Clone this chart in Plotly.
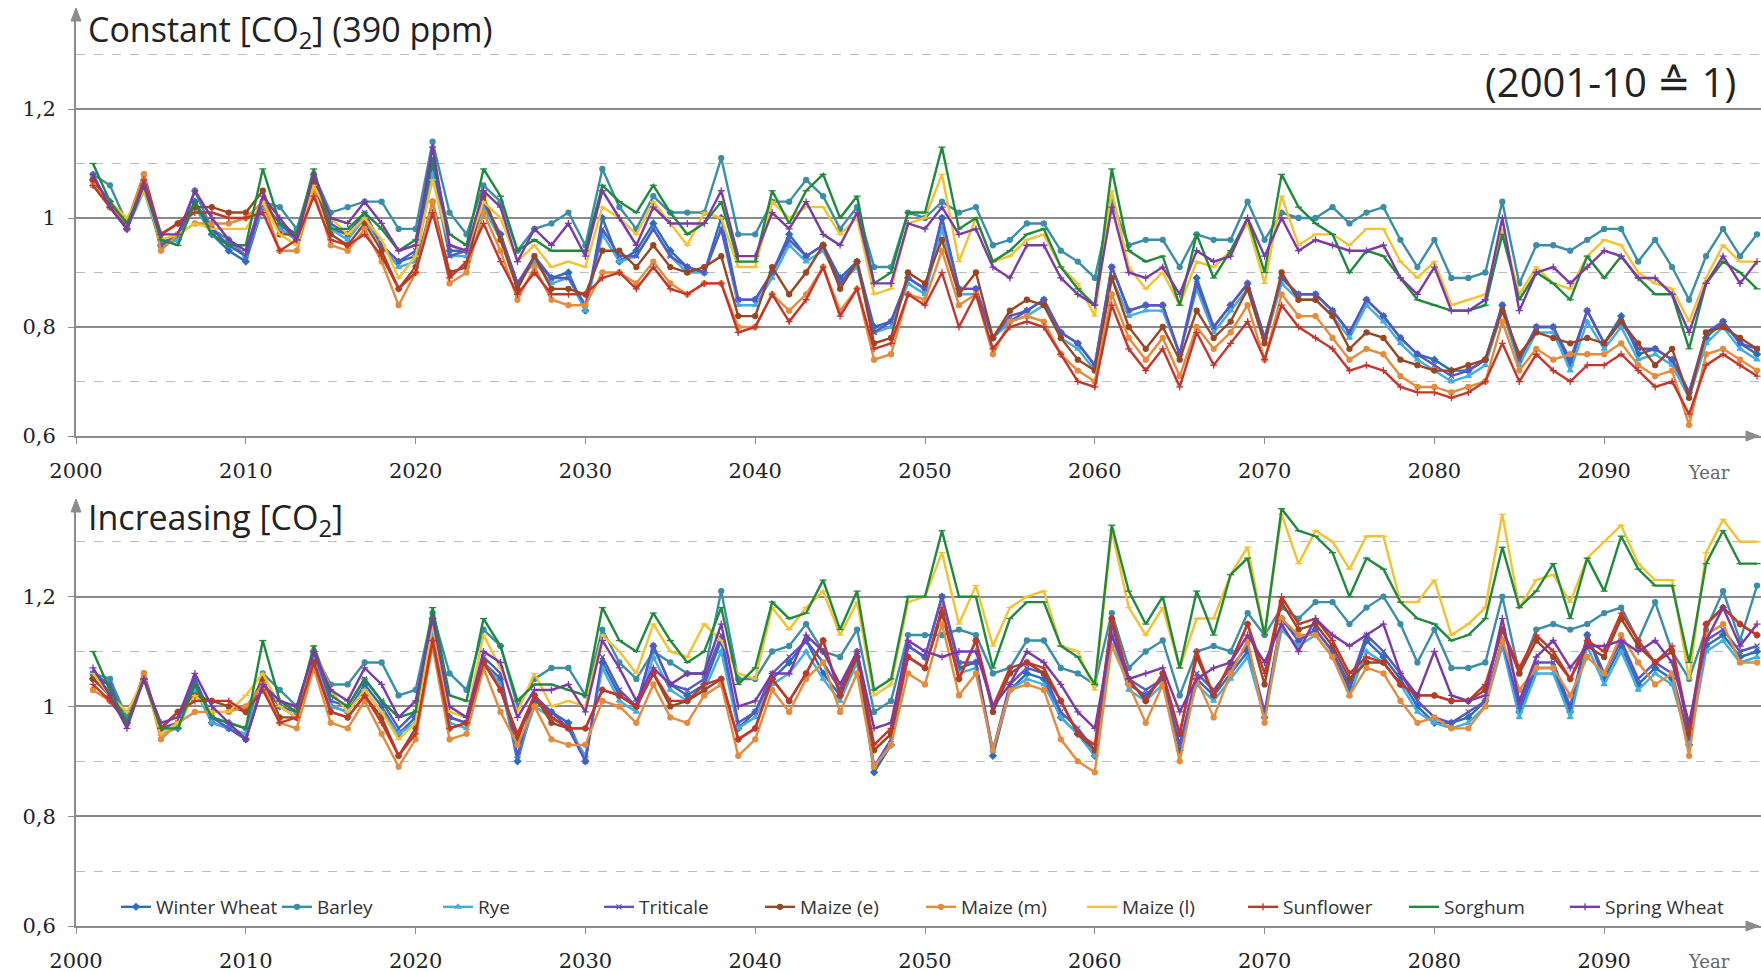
import plotly.graph_objects as go

years = list(range(2001, 2100))

series_names = ["Winter Wheat", "Barley", "Rye", "Triticale", "Maize (e)", "Maize (m)",
                "Maize (l)", "Sunflower", "Sorghum", "Spring Wheat"]

# ---------------- Constant [CO2] (390 ppm) ----------------
const_winter_wheat = [
    1.07, 1.03, 0.98, 1.06, 0.95, 0.96, 1.03, 0.97, 0.94, 0.92,
    1.02, 0.98, 0.96, 1.07, 0.98, 0.97, 1.00, 0.95, 0.92, 0.93,
    1.10, 0.94, 0.94, 1.02, 0.97, 0.88, 0.92, 0.89, 0.90, 0.83,
    1.00, 0.92, 0.94, 0.99, 0.94, 0.91, 0.90, 1.00, 0.85, 0.85,
    0.90, 0.97, 0.93, 0.95, 0.89, 0.92, 0.80, 0.81, 0.89, 0.87,
    1.00, 0.87, 0.87, 0.78, 0.81, 0.83, 0.85, 0.79, 0.77, 0.73,
    0.91, 0.83, 0.84, 0.84, 0.75, 0.89, 0.80, 0.84, 0.88, 0.78,
    0.89, 0.86, 0.86, 0.83, 0.79, 0.85, 0.82, 0.78, 0.75, 0.74,
    0.72, 0.72, 0.74, 0.84, 0.74, 0.80, 0.80, 0.73, 0.83, 0.77,
    0.82, 0.75, 0.76, 0.74, 0.68, 0.78, 0.81, 0.77, 0.75]
const_barley = [
    1.08, 1.06, 0.99, 1.06, 0.96, 0.96, 1.05, 0.98, 0.96, 0.93,
    1.03, 1.02, 0.98, 1.08, 1.01, 1.02, 1.03, 1.03, 0.98, 0.98,
    1.14, 1.01, 0.97, 1.06, 1.03, 0.94, 0.98, 0.99, 1.01, 0.95,
    1.09, 1.02, 0.98, 1.04, 1.01, 1.01, 1.01, 1.11, 0.97, 0.97,
    1.03, 1.03, 1.07, 1.04, 0.98, 1.02, 0.91, 0.91, 1.01, 1.00,
    1.03, 1.01, 1.02, 0.95, 0.96, 0.99, 0.99, 0.94, 0.92, 0.89,
    1.03, 0.95, 0.96, 0.96, 0.91, 0.97, 0.96, 0.96, 1.03, 0.96,
    1.01, 1.00, 1.00, 1.02, 0.99, 1.01, 1.02, 0.96, 0.91, 0.96,
    0.89, 0.89, 0.90, 1.03, 0.88, 0.95, 0.95, 0.94, 0.96, 0.98,
    0.98, 0.92, 0.96, 0.91, 0.85, 0.93, 0.98, 0.93, 0.97]
const_rye = [
    1.06, 1.02, 0.98, 1.05, 0.95, 0.96, 1.02, 0.97, 0.95, 0.93,
    1.02, 0.98, 0.96, 1.06, 0.98, 0.96, 1.00, 0.95, 0.91, 0.92,
    1.08, 0.93, 0.93, 1.02, 0.96, 0.88, 0.92, 0.88, 0.89, 0.83,
    0.97, 0.92, 0.93, 0.98, 0.93, 0.90, 0.90, 0.98, 0.84, 0.84,
    0.89, 0.95, 0.92, 0.94, 0.88, 0.91, 0.79, 0.80, 0.88, 0.86,
    0.98, 0.86, 0.86, 0.78, 0.81, 0.82, 0.84, 0.78, 0.76, 0.72,
    0.89, 0.82, 0.83, 0.83, 0.75, 0.87, 0.79, 0.83, 0.87, 0.77,
    0.88, 0.85, 0.85, 0.82, 0.78, 0.84, 0.81, 0.77, 0.74, 0.72,
    0.70, 0.71, 0.73, 0.83, 0.73, 0.79, 0.79, 0.72, 0.81, 0.76,
    0.80, 0.74, 0.75, 0.73, 0.67, 0.77, 0.80, 0.76, 0.74]
const_triticale = [
    1.07, 1.02, 0.98, 1.06, 0.95, 0.97, 1.03, 0.98, 0.95, 0.93,
    1.03, 0.99, 0.96, 1.07, 0.99, 0.97, 1.01, 0.95, 0.92, 0.94,
    1.11, 0.93, 0.94, 1.03, 0.97, 0.88, 0.93, 0.89, 0.89, 0.84,
    0.98, 0.93, 0.93, 0.98, 0.93, 0.91, 0.90, 0.98, 0.85, 0.85,
    0.90, 0.96, 0.93, 0.95, 0.88, 0.92, 0.79, 0.81, 0.89, 0.87,
    1.00, 0.87, 0.87, 0.78, 0.82, 0.83, 0.85, 0.79, 0.77, 0.73,
    0.91, 0.83, 0.84, 0.84, 0.75, 0.88, 0.80, 0.84, 0.88, 0.78,
    0.89, 0.86, 0.86, 0.83, 0.79, 0.85, 0.82, 0.78, 0.75, 0.73,
    0.71, 0.72, 0.74, 0.84, 0.74, 0.80, 0.80, 0.74, 0.83, 0.77,
    0.81, 0.76, 0.76, 0.74, 0.68, 0.79, 0.81, 0.77, 0.76]
const_maize_e = [
    1.07, 1.02, 0.99, 1.08, 0.97, 0.99, 1.02, 1.02, 1.01, 1.01,
    1.05, 0.97, 0.97, 1.07, 0.97, 0.95, 0.99, 0.94, 0.87, 0.91,
    1.03, 0.90, 0.91, 1.04, 0.96, 0.87, 0.93, 0.87, 0.87, 0.86,
    0.94, 0.94, 0.91, 0.95, 0.91, 0.90, 0.91, 0.93, 0.82, 0.82,
    0.91, 0.86, 0.90, 0.95, 0.87, 0.92, 0.77, 0.78, 0.90, 0.88,
    0.96, 0.86, 0.90, 0.78, 0.83, 0.85, 0.84, 0.78, 0.74, 0.72,
    0.89, 0.80, 0.76, 0.80, 0.74, 0.83, 0.78, 0.81, 0.87, 0.77,
    0.90, 0.85, 0.85, 0.82, 0.76, 0.79, 0.78, 0.74, 0.73, 0.72,
    0.72, 0.73, 0.74, 0.83, 0.75, 0.79, 0.78, 0.77, 0.78, 0.77,
    0.81, 0.77, 0.73, 0.76, 0.67, 0.79, 0.80, 0.78, 0.76]
const_maize_m = [
    1.06, 1.02, 0.99, 1.08, 0.94, 0.97, 0.99, 0.99, 0.99, 1.00,
    1.03, 0.94, 0.94, 1.05, 0.95, 0.94, 0.98, 0.92, 0.84, 0.90,
    1.03, 0.88, 0.90, 1.01, 0.94, 0.85, 0.91, 0.85, 0.84, 0.84,
    0.90, 0.90, 0.88, 0.92, 0.88, 0.86, 0.88, 0.88, 0.80, 0.80,
    0.86, 0.83, 0.86, 0.91, 0.83, 0.87, 0.74, 0.75, 0.86, 0.85,
    0.94, 0.84, 0.86, 0.75, 0.81, 0.82, 0.81, 0.75, 0.72, 0.70,
    0.86, 0.78, 0.74, 0.78, 0.71, 0.80, 0.76, 0.79, 0.84, 0.74,
    0.86, 0.82, 0.82, 0.78, 0.74, 0.76, 0.75, 0.71, 0.69, 0.69,
    0.68, 0.69, 0.70, 0.81, 0.72, 0.76, 0.74, 0.75, 0.75, 0.75,
    0.77, 0.73, 0.71, 0.72, 0.62, 0.75, 0.76, 0.74, 0.72]
const_maize_l = [
    1.06, 1.03, 1.00, 1.05, 0.96, 0.97, 0.99, 0.98, 0.98, 0.98,
    1.03, 0.97, 0.95, 1.06, 1.00, 0.97, 1.00, 0.96, 0.89, 0.93,
    1.07, 0.95, 0.94, 1.03, 1.00, 0.92, 0.95, 0.91, 0.92, 0.91,
    1.02, 1.00, 0.97, 1.03, 0.99, 0.95, 1.01, 1.00, 0.91, 0.91,
    1.03, 1.00, 1.02, 1.02, 0.97, 1.00, 0.86, 0.87, 0.99, 1.00,
    1.08, 0.92, 1.00, 0.92, 0.93, 0.96, 0.97, 0.91, 0.88, 0.82,
    1.05, 0.91, 0.87, 0.90, 0.84, 0.92, 0.91, 0.94, 0.99, 0.88,
    1.04, 0.95, 0.97, 0.97, 0.95, 0.98, 0.98, 0.92, 0.89, 0.92,
    0.84, 0.85, 0.86, 0.98, 0.86, 0.91, 0.88, 0.87, 0.93, 0.96,
    0.95, 0.90, 0.88, 0.87, 0.81, 0.89, 0.95, 0.92, 0.92]
const_sunflower = [
    1.06, 1.02, 0.98, 1.07, 0.97, 0.99, 1.01, 1.01, 1.00, 1.00,
    1.01, 0.94, 0.96, 1.04, 0.96, 0.95, 0.97, 0.93, 0.87, 0.90,
    1.01, 0.89, 0.92, 0.99, 0.92, 0.86, 0.90, 0.86, 0.86, 0.86,
    0.89, 0.90, 0.87, 0.91, 0.87, 0.86, 0.88, 0.88, 0.79, 0.80,
    0.86, 0.81, 0.85, 0.91, 0.82, 0.87, 0.76, 0.77, 0.86, 0.84,
    0.90, 0.80, 0.86, 0.76, 0.80, 0.81, 0.80, 0.75, 0.70, 0.69,
    0.84, 0.76, 0.72, 0.76, 0.69, 0.79, 0.73, 0.77, 0.81, 0.74,
    0.84, 0.80, 0.78, 0.76, 0.72, 0.73, 0.72, 0.69, 0.68, 0.68,
    0.67, 0.68, 0.70, 0.77, 0.70, 0.75, 0.72, 0.70, 0.73, 0.73,
    0.75, 0.72, 0.69, 0.70, 0.64, 0.73, 0.75, 0.73, 0.71]
const_sorghum = [
    1.10, 1.03, 0.99, 1.06, 0.96, 0.95, 1.03, 0.97, 0.95, 0.95,
    1.09, 0.99, 0.97, 1.09, 0.98, 0.98, 1.01, 0.98, 0.94, 0.96,
    1.11, 0.97, 0.95, 1.09, 1.04, 0.94, 0.96, 0.94, 0.94, 0.94,
    1.06, 1.03, 1.01, 1.06, 1.01, 0.97, 0.99, 1.03, 0.92, 0.92,
    1.05, 0.99, 1.05, 1.08, 1.00, 1.04, 0.88, 0.90, 1.01, 1.01,
    1.13, 0.98, 1.00, 0.92, 0.94, 0.97, 0.98, 0.91, 0.87, 0.84,
    1.09, 0.94, 0.92, 0.93, 0.84, 0.97, 0.89, 0.94, 1.00, 0.90,
    1.08, 1.02, 0.99, 0.97, 0.90, 0.94, 0.93, 0.89, 0.85, 0.84,
    0.83, 0.83, 0.84, 0.97, 0.85, 0.90, 0.88, 0.85, 0.93, 0.89,
    0.93, 0.89, 0.86, 0.86, 0.76, 0.88, 0.92, 0.90, 0.87]
const_spring_wheat = [
    1.08, 1.02, 0.98, 1.06, 0.97, 0.97, 1.05, 1.00, 0.96, 0.94,
    1.04, 1.00, 0.96, 1.08, 1.00, 0.99, 1.03, 0.99, 0.94, 0.95,
    1.13, 0.95, 0.94, 1.05, 1.02, 0.92, 0.98, 0.95, 0.99, 0.93,
    1.05, 1.00, 0.95, 1.02, 0.99, 0.99, 0.99, 1.05, 0.93, 0.93,
    1.01, 0.98, 1.03, 0.97, 0.95, 1.01, 0.88, 0.88, 0.99, 0.98,
    1.02, 0.97, 0.98, 0.91, 0.89, 0.95, 0.95, 0.89, 0.86, 0.84,
    1.02, 0.90, 0.89, 0.91, 0.86, 0.94, 0.92, 0.93, 1.00, 0.93,
    1.00, 0.94, 0.96, 0.95, 0.94, 0.94, 0.95, 0.89, 0.86, 0.91,
    0.83, 0.83, 0.85, 1.00, 0.83, 0.90, 0.91, 0.88, 0.91, 0.94,
    0.93, 0.89, 0.89, 0.86, 0.79, 0.88, 0.93, 0.88, 0.92]

# ---------------- Increasing [CO2] ----------------
incr_winter_wheat = [
    1.05, 1.04, 0.97, 1.05, 0.96, 0.96, 1.04, 0.97, 0.96, 0.94,
    1.04, 1.00, 0.98, 1.10, 1.00, 0.99, 1.04, 1.00, 0.95, 0.98,
    1.16, 0.98, 0.97, 1.08, 1.05, 0.90, 1.01, 0.99, 0.97, 0.90,
    1.08, 1.02, 1.00, 1.11, 1.04, 1.02, 1.04, 1.12, 0.96, 0.99,
    1.05, 1.08, 1.12, 1.06, 1.02, 1.09, 0.88, 0.93, 1.11, 1.09,
    1.20, 1.07, 1.08, 0.91, 1.03, 1.06, 1.05, 0.98, 0.95, 0.91,
    1.15, 1.04, 1.02, 1.05, 0.92, 1.05, 1.02, 1.06, 1.10, 0.98,
    1.16, 1.12, 1.14, 1.10, 1.03, 1.12, 1.09, 1.05, 1.00, 0.97,
    0.97, 0.98, 1.01, 1.12, 0.99, 1.07, 1.07, 0.99, 1.13, 1.05,
    1.11, 1.04, 1.07, 1.05, 0.93, 1.11, 1.13, 1.09, 1.10]
incr_barley = [
    1.06, 1.05, 0.98, 1.05, 0.96, 0.97, 1.05, 0.98, 0.97, 0.96,
    1.06, 1.03, 1.00, 1.10, 1.04, 1.04, 1.08, 1.08, 1.02, 1.03,
    1.17, 1.06, 1.03, 1.14, 1.11, 1.00, 1.05, 1.07, 1.07, 1.02,
    1.14, 1.08, 1.05, 1.10, 1.08, 1.06, 1.06, 1.21, 1.05, 1.05,
    1.10, 1.11, 1.15, 1.10, 1.09, 1.14, 0.99, 1.01, 1.13, 1.13,
    1.13, 1.14, 1.13, 1.06, 1.07, 1.12, 1.12, 1.07, 1.06, 1.04,
    1.17, 1.07, 1.10, 1.12, 1.02, 1.10, 1.11, 1.10, 1.17, 1.13,
    1.18, 1.16, 1.19, 1.19, 1.15, 1.18, 1.20, 1.15, 1.08, 1.14,
    1.07, 1.07, 1.08, 1.20, 1.06, 1.14, 1.15, 1.14, 1.15, 1.17,
    1.18, 1.12, 1.19, 1.10, 1.05, 1.14, 1.21, 1.12, 1.22]
incr_rye = [
    1.05, 1.03, 0.97, 1.05, 0.95, 0.96, 1.03, 0.97, 0.96, 0.95,
    1.04, 1.00, 0.98, 1.09, 1.00, 0.99, 1.03, 0.99, 0.95, 0.97,
    1.14, 0.97, 0.96, 1.08, 1.04, 0.91, 1.00, 0.98, 0.96, 0.91,
    1.07, 1.01, 0.99, 1.09, 1.03, 1.01, 1.03, 1.10, 0.96, 0.98,
    1.04, 1.06, 1.10, 1.05, 1.01, 1.08, 0.89, 0.93, 1.09, 1.07,
    1.17, 1.06, 1.07, 0.92, 1.03, 1.05, 1.04, 0.98, 0.95, 0.91,
    1.13, 1.03, 1.01, 1.04, 0.93, 1.04, 1.01, 1.05, 1.09, 0.98,
    1.14, 1.11, 1.13, 1.09, 1.02, 1.10, 1.08, 1.04, 0.99, 0.97,
    0.96, 0.97, 1.00, 1.11, 0.98, 1.06, 1.06, 0.98, 1.11, 1.04,
    1.10, 1.03, 1.06, 1.04, 0.93, 1.10, 1.12, 1.08, 1.09]
incr_triticale = [
    1.06, 1.04, 0.97, 1.05, 0.96, 0.97, 1.05, 0.98, 0.96, 0.94,
    1.04, 1.00, 0.99, 1.10, 1.01, 1.00, 1.05, 1.01, 0.96, 0.99,
    1.16, 0.98, 0.97, 1.09, 1.06, 0.91, 1.02, 0.99, 0.96, 0.90,
    1.09, 1.03, 1.00, 1.11, 1.04, 1.03, 1.05, 1.13, 0.97, 0.99,
    1.06, 1.09, 1.12, 1.08, 1.03, 1.10, 0.89, 0.94, 1.11, 1.09,
    1.20, 1.08, 1.08, 0.92, 1.04, 1.07, 1.06, 0.99, 0.96, 0.92,
    1.15, 1.05, 1.03, 1.05, 0.93, 1.06, 1.03, 1.07, 1.11, 0.99,
    1.16, 1.12, 1.14, 1.10, 1.04, 1.13, 1.10, 1.06, 1.01, 0.98,
    0.97, 0.99, 1.01, 1.12, 1.00, 1.08, 1.08, 1.00, 1.13, 1.06,
    1.12, 1.05, 1.08, 1.06, 0.94, 1.12, 1.14, 1.10, 1.11]
incr_maize_e = [
    1.05, 1.02, 0.97, 1.06, 0.96, 0.99, 1.02, 1.01, 1.00, 0.99,
    1.05, 0.98, 0.98, 1.08, 0.99, 0.98, 1.02, 0.98, 0.91, 0.96,
    1.12, 0.96, 0.97, 1.08, 1.03, 0.94, 1.02, 0.97, 0.96, 0.96,
    1.03, 1.02, 1.00, 1.06, 1.00, 1.01, 1.03, 1.05, 0.94, 0.96,
    1.05, 1.01, 1.06, 1.12, 1.02, 1.09, 0.92, 0.95, 1.09, 1.07,
    1.17, 1.05, 1.12, 0.99, 1.06, 1.08, 1.06, 1.01, 0.95, 0.92,
    1.16, 1.05, 1.01, 1.06, 0.95, 1.09, 1.02, 1.08, 1.15, 1.04,
    1.19, 1.14, 1.15, 1.11, 1.05, 1.08, 1.08, 1.04, 1.02, 1.02,
    1.01, 1.01, 1.03, 1.14, 1.06, 1.12, 1.09, 1.05, 1.11, 1.09,
    1.16, 1.11, 1.08, 1.10, 0.95, 1.15, 1.18, 1.15, 1.13]
incr_maize_m = [
    1.03, 1.01, 0.97, 1.06, 0.94, 0.97, 0.99, 0.99, 0.99, 1.00,
    1.04, 0.97, 0.96, 1.07, 0.97, 0.96, 1.01, 0.95, 0.89, 0.94,
    1.11, 0.94, 0.95, 1.07, 0.99, 0.93, 1.00, 0.94, 0.93, 0.93,
    1.01, 1.00, 0.97, 1.04, 0.98, 0.97, 1.02, 1.04, 0.91, 0.94,
    1.03, 0.99, 1.05, 1.08, 0.99, 1.06, 0.89, 0.93, 1.06, 1.04,
    1.15, 1.02, 1.06, 0.92, 1.03, 1.04, 1.03, 0.94, 0.90, 0.88,
    1.11, 1.04, 0.97, 1.04, 0.90, 1.05, 0.98, 1.06, 1.12, 0.97,
    1.16, 1.13, 1.13, 1.09, 1.02, 1.07, 1.06, 1.01, 0.97, 0.98,
    0.96, 0.96, 1.00, 1.12, 1.03, 1.07, 1.07, 1.02, 1.09, 1.06,
    1.13, 1.08, 1.04, 1.06, 0.91, 1.13, 1.15, 1.08, 1.08]
incr_maize_l = [
    1.06, 1.02, 0.99, 1.05, 0.95, 0.97, 1.02, 0.99, 0.99, 1.02,
    1.06, 1.00, 0.98, 1.11, 1.03, 0.99, 1.03, 0.99, 0.94, 0.97,
    1.15, 0.99, 0.98, 1.13, 1.07, 0.99, 1.06, 1.00, 1.01, 1.00,
    1.13, 1.10, 1.06, 1.15, 1.10, 1.09, 1.15, 1.12, 1.06, 1.05,
    1.18, 1.14, 1.18, 1.21, 1.13, 1.19, 1.02, 1.04, 1.19, 1.20,
    1.28, 1.15, 1.22, 1.11, 1.18, 1.20, 1.21, 1.11, 1.10, 1.03,
    1.32, 1.18, 1.13, 1.18, 1.07, 1.16, 1.16, 1.24, 1.29, 1.13,
    1.35, 1.26, 1.32, 1.30, 1.25, 1.31, 1.31, 1.19, 1.19, 1.23,
    1.13, 1.15, 1.18, 1.35, 1.18, 1.23, 1.24, 1.19, 1.27, 1.30,
    1.33, 1.26, 1.23, 1.23, 1.05, 1.28, 1.34, 1.30, 1.30]
incr_sunflower = [
    1.04, 1.01, 0.97, 1.05, 0.96, 0.99, 1.01, 1.01, 1.01, 0.99,
    1.03, 0.97, 0.98, 1.08, 0.99, 0.98, 1.02, 0.97, 0.91, 0.95,
    1.12, 0.96, 0.97, 1.08, 1.03, 0.95, 1.02, 0.98, 0.96, 0.96,
    1.03, 1.02, 1.00, 1.06, 1.01, 1.01, 1.04, 1.05, 0.94, 0.96,
    1.05, 1.01, 1.06, 1.12, 1.02, 1.10, 0.93, 0.96, 1.09, 1.07,
    1.18, 1.05, 1.12, 1.00, 1.07, 1.08, 1.07, 1.01, 0.95, 0.93,
    1.16, 1.05, 1.01, 1.06, 0.95, 1.10, 1.02, 1.08, 1.15, 1.06,
    1.20, 1.15, 1.16, 1.12, 1.06, 1.09, 1.08, 1.04, 1.02, 1.02,
    1.01, 1.01, 1.04, 1.14, 1.07, 1.13, 1.10, 1.05, 1.12, 1.10,
    1.17, 1.12, 1.08, 1.11, 0.96, 1.15, 1.18, 1.15, 1.13]
incr_sorghum = [
    1.10, 1.03, 0.97, 1.05, 0.96, 0.96, 1.04, 0.98, 0.97, 0.96,
    1.12, 1.01, 0.99, 1.11, 1.02, 1.00, 1.05, 1.01, 0.98, 0.99,
    1.18, 1.02, 1.01, 1.16, 1.11, 1.01, 1.04, 1.04, 1.03, 1.02,
    1.18, 1.12, 1.10, 1.17, 1.12, 1.08, 1.10, 1.18, 1.04, 1.07,
    1.19, 1.16, 1.17, 1.23, 1.14, 1.21, 1.03, 1.05, 1.20, 1.20,
    1.32, 1.20, 1.20, 1.07, 1.16, 1.19, 1.19, 1.11, 1.09, 1.04,
    1.33, 1.21, 1.15, 1.20, 1.07, 1.21, 1.13, 1.24, 1.27, 1.13,
    1.36, 1.32, 1.31, 1.28, 1.20, 1.27, 1.25, 1.19, 1.16, 1.15,
    1.12, 1.13, 1.16, 1.29, 1.18, 1.21, 1.26, 1.16, 1.27, 1.21,
    1.31, 1.25, 1.22, 1.22, 1.08, 1.26, 1.32, 1.26, 1.26]
incr_spring_wheat = [
    1.07, 1.02, 0.96, 1.05, 0.97, 0.98, 1.06, 1.00, 0.97, 0.94,
    1.04, 1.01, 1.00, 1.10, 1.03, 1.01, 1.07, 1.04, 0.98, 1.01,
    1.16, 1.00, 0.98, 1.10, 1.08, 0.98, 1.03, 1.03, 1.04, 0.99,
    1.12, 1.07, 1.01, 1.07, 1.04, 1.06, 1.06, 1.15, 1.00, 1.01,
    1.06, 1.06, 1.13, 1.10, 1.04, 1.10, 0.96, 0.97, 1.12, 1.10,
    1.09, 1.10, 1.10, 1.00, 1.04, 1.10, 1.08, 1.04, 0.99, 0.96,
    1.13, 1.05, 1.06, 1.07, 0.99, 1.05, 1.07, 1.08, 1.13, 1.08,
    1.15, 1.10, 1.16, 1.13, 1.11, 1.13, 1.15, 1.06, 1.02, 1.10,
    1.02, 1.01, 1.02, 1.16, 1.01, 1.09, 1.12, 1.07, 1.11, 1.11,
    1.12, 1.10, 1.12, 1.08, 0.97, 1.12, 1.18, 1.11, 1.15]

const_values = [const_winter_wheat, const_barley, const_rye, const_triticale, const_maize_e,
                const_maize_m, const_maize_l, const_sunflower, const_sorghum, const_spring_wheat]
incr_values = [incr_winter_wheat, incr_barley, incr_rye, incr_triticale, incr_maize_e,
               incr_maize_m, incr_maize_l, incr_sunflower, incr_sorghum, incr_spring_wheat]

y_tick_vals = [0.6, 0.8, 1.0, 1.2]
y_tick_text = ["0,6", "0,8", "1", "1,2"]
y_minor_vals = [0.7, 0.9, 1.1, 1.3]
x_tick_vals = [2000, 2010, 2020, 2030, 2040, 2050, 2060, 2070, 2080, 2090]

colors = ["#2a6ebb", "#3a8ea8", "#40aee2", "#5a55c6", "#9a4622",
          "#e58b3c", "#f3c22e", "#c7352a", "#1f8a3c", "#7b3aa6"]
symbols = ["diamond", "circle", "triangle-up", "x-thin", "circle", "circle",
           "line-ew", "cross-thin", "line-ew", "cross-thin"]

W, H = 1761, 972
fig = go.Figure()

for i, name in enumerate(series_names):
    for vals, yax, show in ((const_values[i], "y", False), (incr_values[i], "y2", True)):
        fig.add_trace(go.Scatter(
            x=years, y=vals, name=name, yaxis=yax, xaxis="x" if yax == "y" else "x2",
            mode="lines+markers", legendgroup=name, showlegend=show,
            line=dict(color=colors[i], width=2.4),
            marker=dict(symbol=symbols[i], size=5, color=colors[i],
                        line=dict(color=colors[i], width=1.3)),
        ))

xl = 76 / W
top_dom = [1 - 436 / H, 1 - 11 / H]
bot_dom = [1 - 926 / H, 1 - 502 / H]
x_range = [2000, 2000 + (W - 76) / 16.98]

tick_font = dict(family="DejaVu Serif", size=21, color="#222222")
common_x = dict(range=x_range, domain=[xl, 1], tickmode="array", tickvals=x_tick_vals,
                showline=True, linecolor="#8c8c8c", linewidth=2, ticks="outside",
                ticklen=6, tickcolor="#8c8c8c", showgrid=False, zeroline=False,
                tickfont=tick_font, automargin=False, ticklabelstandoff=9)
common_y = dict(tickmode="array", tickvals=y_tick_vals, ticktext=y_tick_text,
                showline=True, linecolor="#8c8c8c", linewidth=2, ticks="outside",
                ticklen=6, tickcolor="#8c8c8c", showgrid=True, gridcolor="#8a8a8a",
                gridwidth=1.5, zeroline=False, tickfont=tick_font, automargin=False,
                ticklabelstandoff=8,
                minor=dict(tickvals=y_minor_vals, showgrid=True, gridcolor="#bdbdbd",
                           griddash="dash", gridwidth=1, ticks=""))

fig.update_layout(
    width=W, height=H, margin=dict(l=0, r=0, t=0, b=0, autoexpand=False),
    paper_bgcolor="white", plot_bgcolor="white",
    xaxis=dict(anchor="y", **common_x),
    xaxis2=dict(anchor="y2", **common_x),
    yaxis=dict(domain=top_dom, range=[0.6, 0.6 + 425 / 545], anchor="x", **common_y),
    yaxis2=dict(domain=bot_dom, range=[0.6, 0.6 + 424 / 549], anchor="x2", **common_y),
    legend=dict(orientation="h", x=116 / W, y=1 - 907 / H, xanchor="left", yanchor="middle",
                entrywidth=116, entrywidthmode="pixels", bgcolor="rgba(0,0,0,0)",
                font=dict(family="Open Sans", size=19, color="#333333"),
                itemwidth=30, tracegroupgap=0),
    showlegend=True,
)

title_font = dict(family="Open Sans", size=34, color="#222222")
ann = [
    dict(text="Constant [CO<sub>2</sub>] (390 ppm)", x=86 / W, y=1 - 31 / H, xref="paper", yref="paper",
         xanchor="left", yanchor="middle", showarrow=False, font=title_font),
    dict(text="Increasing [CO<sub>2</sub>]", x=86 / W, y=1 - 519 / H, xref="paper", yref="paper",
         xanchor="left", yanchor="middle", showarrow=False, font=title_font),
    dict(text="(2001-10 ≙ 1)", x=1738 / W, y=1 - 81 / H, xref="paper", yref="paper",
         xanchor="right", yanchor="middle", showarrow=False,
         font=dict(family="Open Sans", size=40, color="#222222")),
    dict(text="Year", x=1709 / W, y=1 - 472 / H, xref="paper", yref="paper",
         xanchor="center", yanchor="middle", showarrow=False,
         font=dict(family="DejaVu Serif", size=18, color="#666666")),
    dict(text="Year", x=1709 / W, y=1 - 961 / H, xref="paper", yref="paper",
         xanchor="center", yanchor="middle", showarrow=False,
         font=dict(family="DejaVu Serif", size=18, color="#666666")),
]
fig.update_layout(annotations=ann)

# axis arrow heads (decoration, paper pixel positions)
def px2paper(px, py):
    return px / W, 1 - py / H

shapes = []
for (tx, ty, kind) in ((76, 8, "up"), (76, 499, "up"), (1759, 436, "right"), (1759, 926, "right")):
    if kind == "up":
        pts = [(tx, ty), (tx - 5, ty + 13), (tx + 5, ty + 13)]
    else:
        pts = [(tx, ty), (tx - 13, ty - 5), (tx - 13, ty + 5)]
    p = [px2paper(a, b) for a, b in pts]
    path = "M {} {} L {} {} L {} {} Z".format(p[0][0], p[0][1], p[1][0], p[1][1], p[2][0], p[2][1])
    shapes.append(dict(type="path", path=path, xref="paper", yref="paper",
                       fillcolor="#8c8c8c", line=dict(color="#8c8c8c", width=1)))
fig.update_layout(shapes=shapes)

fig.write_html("out.html")
